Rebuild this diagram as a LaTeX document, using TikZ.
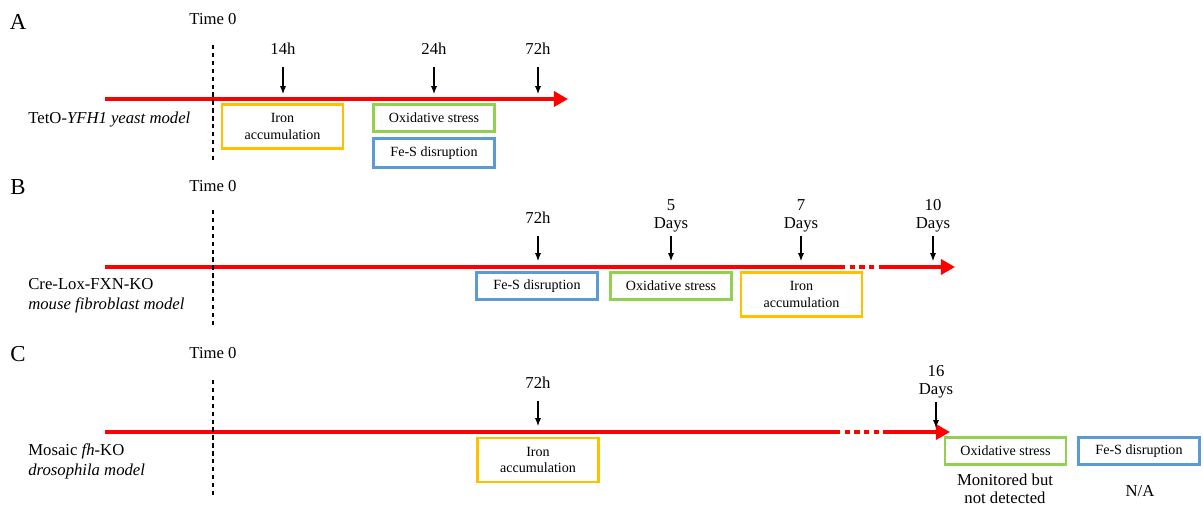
\documentclass[tikz,border=0pt]{standalone}
\usepackage{fontspec}
\setmainfont{Liberation Serif}
\usetikzlibrary{arrows.meta}
\definecolor{axisred}{RGB}{255,0,0}
\definecolor{boxorange}{RGB}{255,192,0}
\definecolor{boxgreen}{RGB}{146,208,80}
\definecolor{boxblue}{RGB}{91,155,213}

\begin{document}
\begin{tikzpicture}[x=0.02cm,y=-0.02cm,
  every node/.style={font=\fontsize{9.5}{11.3}\selectfont},
  panel/.style={font=\fontsize{13}{15}\selectfont,inner sep=0pt},
  tlabel/.style={align=center,inner sep=1pt,font=\fontsize{9.5}{10.2}\selectfont},
  model/.style={anchor=west,align=left,inner sep=0pt},
  zeroline/.style={dash pattern=on 2.5pt off 2pt,line width=0.7pt},
  axis/.style={axisred,line width=2.3pt},
  axisarrow/.style={axis,-{Triangle[length=8pt,width=8.5pt]}},
  axisgap/.style={axis,dash pattern=on 3pt off 2.5pt},
  hit/.style={-{Latex[length=4.5pt,width=3.5pt]},line width=0.6pt,shorten <=#1},
  hit/.default=6pt,
  evbox/.style={draw,line width=1.5pt,minimum width=2.42cm,align=center,inner sep=1pt,
    font=\fontsize{8}{9.5}\selectfont},
  onebox/.style={evbox,minimum height=0.54cm},
  twobox/.style={evbox,minimum height=0.88cm}]
\useasboundingbox (0,0) rectangle (1203,508);

% A
\node[panel] (lblA) at (18,22) {A};
\node (zeroA) at (213,19) {Time 0};
\coordinate (startA) at (105,99);
\coordinate (endA) at (568,99);
\draw[axisarrow] (startA) -- (endA);
\coordinate (topA) at (213,45);
\coordinate (botA) at (213,160);
\draw[zeroline] (topA) -- (botA);
\foreach \n/\x/\t in {a/283/14h,b/434/24h,c/538/72h}{
  \node[tlabel] (tA\n) at (\x,49) {\t};
  \coordinate (pA\n) at (\x,94);
  \draw[hit] (tA\n) -- (pA\n);
}
\node[model] (modA) at (28,120) {TetO-\textit{YFH1 yeast model}};
\node[twobox,draw=boxorange] (ironA) at (282.5,126.5) {Iron\\accumulation};
\node[onebox,draw=boxgreen] (oxA) at (434,118) {Oxidative stress};
\node[onebox,draw=boxblue,minimum height=0.58cm] (fesA) at (434,153) {Fe-S disruption};

% B
\node[panel] (lblB) at (18,187) {B};
\node (zeroB) at (213,186) {Time 0};
\coordinate (startB) at (105,267);
\coordinate (gapB) at (840,267);
\coordinate (restB) at (882,267);
\coordinate (endB) at (955,267);
\draw[axis] (startB) -- (gapB);
\draw[axisgap] (gapB) -- (restB);
\draw[axisarrow] (restB) -- (endB);
\coordinate (topB) at (213,210);
\coordinate (botB) at (213,325);
\draw[zeroline] (topB) -- (botB);
\node[tlabel] (tBa) at (538,218) {72h};
\coordinate (pBa) at (538,261);
\draw[hit=5.5pt] (tBa) -- (pBa);
\foreach \n/\x/\t in {b/671/5,c/801/7,d/933/10}{
  \node[tlabel] (tB\n) at (\x,216) {\t\\Days};
  \coordinate (pB\n) at (\x,261);
  \draw[hit=1pt] (tB\n) -- (pB\n);
}
\node[model] (modB) at (28,296) {Cre-Lox-FXN-KO\\\textit{mouse fibroblast model}};
\node[onebox,draw=boxblue] (fesB) at (537,286) {Fe-S disruption};
\node[onebox,draw=boxgreen] (oxB) at (671,286) {Oxidative stress};
\node[twobox,draw=boxorange] (ironB) at (801.5,294.5) {Iron\\accumulation};

% C
\node[panel] (lblC) at (18,354) {C};
\node (zeroC) at (213,353) {Time 0};
\coordinate (startC) at (105,432);
\coordinate (gapC) at (835,432);
\coordinate (restC) at (885,432);
\coordinate (endC) at (950,432);
\draw[axis] (startC) -- (gapC);
\draw[axisgap] (gapC) -- (restC);
\draw[axisarrow] (restC) -- (endC);
\coordinate (topC) at (213,380);
\coordinate (botC) at (213,495);
\draw[zeroline] (topC) -- (botC);
\node[tlabel] (tCa) at (538,383) {72h};
\coordinate (pCa) at (538,426);
\draw[hit=5.5pt] (tCa) -- (pCa);
\node[tlabel] (tCb) at (936,382) {16\\Days};
\coordinate (pCb) at (936,428);
\draw[hit=1pt] (tCb) -- (pCb);
\node[model] (modC) at (28,461) {Mosaic \textit{fh}-KO\\\textit{drosophila model}};
\node[twobox,draw=boxorange] (ironC) at (538,460) {Iron\\accumulation};
\node[onebox,draw=boxgreen] (oxC) at (1005.5,451) {Oxidative stress};
\node[onebox,draw=boxblue] (fesC) at (1139,451) {Fe-S disruption};
\node[align=center,inner sep=0pt,font=\fontsize{9.5}{10.5}\selectfont] (noteOx) at (1005,489) {Monitored but\\not detected};
\node (noteFes) at (1140,491) {N/A};
\end{tikzpicture}
\end{document}
